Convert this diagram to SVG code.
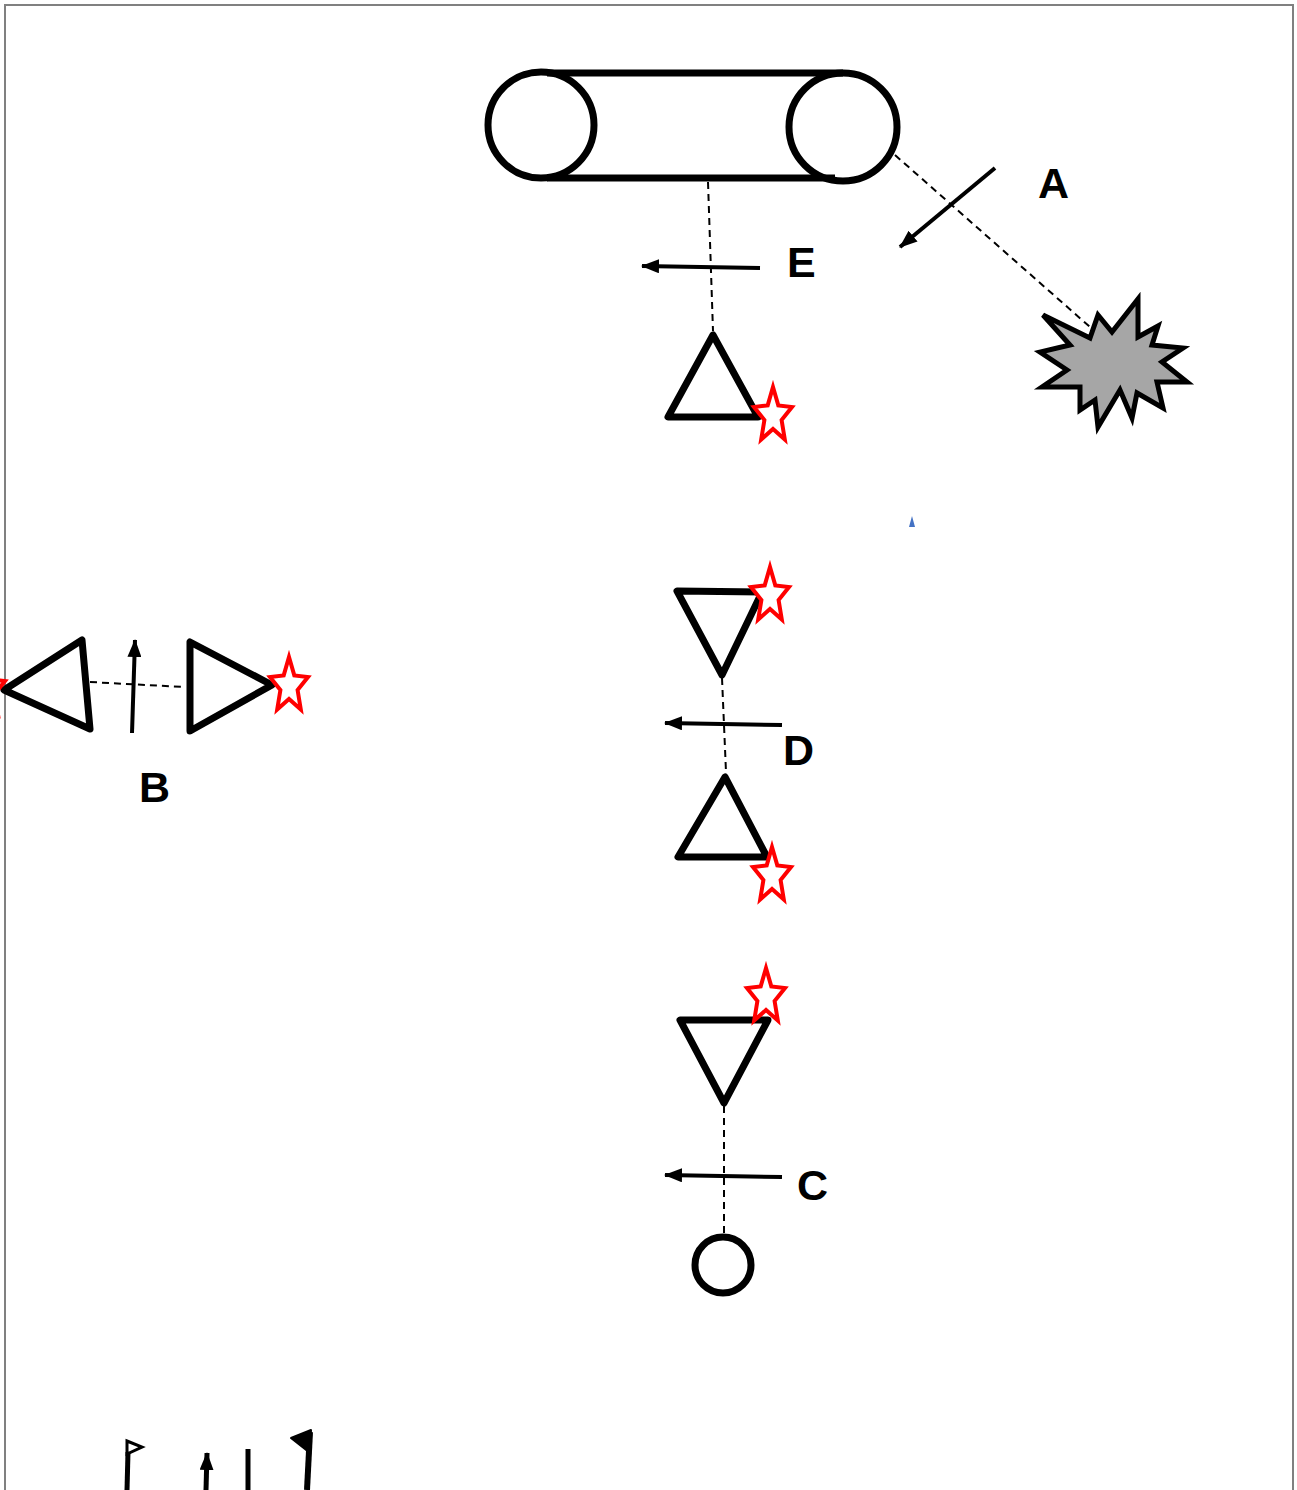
<svg xmlns="http://www.w3.org/2000/svg" width="1297" height="1490" viewBox="0 0 1297 1490">
<style>
.shape{fill:none;stroke:#000;stroke-width:7;stroke-linejoin:round}
.dash{fill:none;stroke:#000;stroke-width:2;stroke-dasharray:7,5}
.arrow{fill:none;stroke:#000;stroke-width:4}
.lbl{font-family:"Liberation Sans",Arial,sans-serif;font-weight:bold;font-size:43px;fill:#000}
.star{fill:#fff;stroke:#f00;stroke-width:4;stroke-linejoin:miter}
</style>
<defs>
<marker id="ah" markerUnits="userSpaceOnUse" markerWidth="18" markerHeight="14" refX="17" refY="7" orient="auto">
<path d="M0,0 L18,7 L0,14 z" fill="#000"/>
</marker>
<path id="starp" d="M0,-29 L5.3,-10.6 L19,-9 L8.6,4 L11.8,23.5 L0,13 L-11.8,23.5 L-8.6,4 L-19,-9 L-5.3,-10.6 Z"/>
</defs>
<rect x="5" y="5" width="1288" height="1500" fill="#fff" stroke="#808080" stroke-width="2"/>

<g id="connectors">
<line class="dash" x1="708" y1="182" x2="713" y2="331"/>
<line class="dash" x1="895" y1="155" x2="1090" y2="327"/>
<line class="dash" x1="722" y1="678" x2="726" y2="772"/>
<line class="dash" x1="724" y1="1106" x2="724" y2="1233"/>
<line class="dash" x1="90" y1="682" x2="184" y2="687"/>
<line class="arrow" x1="760" y1="268" x2="642" y2="266" marker-end="url(#ah)"/>
<line class="arrow" x1="995" y1="168" x2="900" y2="247" marker-end="url(#ah)"/>
<line class="arrow" x1="782" y1="725" x2="665" y2="723" marker-end="url(#ah)"/>
<line class="arrow" x1="782" y1="1177" x2="665" y2="1175" marker-end="url(#ah)"/>
<line class="arrow" x1="132" y1="733" x2="135" y2="640" marker-end="url(#ah)"/>
</g>

<g id="pulley">
<circle class="shape" cx="541" cy="125" r="53"/>
<circle class="shape" cx="843" cy="127" r="54"/>
<line class="shape" x1="547" y1="73" x2="843" y2="73"/>
<line class="shape" x1="547" y1="178" x2="835" y2="178"/>
</g>

<g id="burst">
<polygon points="1043,315 1090,338 1098,315 1112,332 1138,299 1138,337 1158,326 1152,345 1183,348 1162,362 1187,382 1157,382 1163,408 1137,393 1132,418 1120,390 1098,427 1095,400 1080,410 1080,387 1042,387 1067,370 1040,352 1070,345" fill="#a6a6a6" stroke="#000" stroke-width="5" stroke-linejoin="miter"/>
</g>

<g id="blue-mark">
<polygon points="909,527 915,527 912,516" fill="#4472c4"/>
</g>

<g id="tri1">
<polygon class="shape" points="713,335 668,417 758,417"/>
<use href="#starp" class="star" x="773" y="416"/>
</g>

<g id="tri2">
<polygon class="shape" points="677,591 762,592 722,675"/>
<use href="#starp" class="star" x="770" y="596"/>
</g>

<g id="tri3">
<polygon class="shape" points="725,777 678,857 767,857"/>
<use href="#starp" class="star" x="772" y="876"/>
</g>

<g id="tri4">
<polygon class="shape" points="680,1020 768,1020 724,1103"/>
<use href="#starp" class="star" x="766" y="997"/>
</g>

<g id="circle-node">
<circle class="shape" cx="723" cy="1265" r="28"/>
</g>

<g id="tri-left">
<polygon class="shape" points="4,690 82,640 90,729"/>
<use href="#starp" class="star" x="-14" y="690"/>
</g>

<g id="tri-right">
<polygon class="shape" points="190,642 190,731 272,685"/>
<use href="#starp" class="star" x="289" y="686"/>
</g>

<g id="labels">
<text class="lbl" x="1038" y="198">A</text>
<text class="lbl" x="787" y="277">E</text>
<text class="lbl" x="139" y="802">B</text>
<text class="lbl" x="783" y="765">D</text>
<text class="lbl" x="797" y="1200">C</text>
</g>

<g id="bottom-marks">
<line x1="128" y1="1452" x2="127" y2="1490" stroke="#000" stroke-width="5"/>
<polygon points="127,1441 142,1447 127,1454" fill="none" stroke="#000" stroke-width="3"/>
<line class="arrow" x1="206" y1="1490" x2="207" y2="1453" marker-end="url(#ah)" style="stroke-width:5"/>
<line x1="248" y1="1449" x2="248" y2="1490" stroke="#000" stroke-width="5"/>
<line x1="310" y1="1432" x2="307" y2="1490" stroke="#000" stroke-width="6"/>
<polygon points="291,1438 311,1430 310,1453" fill="#000" stroke="#000" stroke-width="2" stroke-linejoin="round"/>
</g>
</svg>
